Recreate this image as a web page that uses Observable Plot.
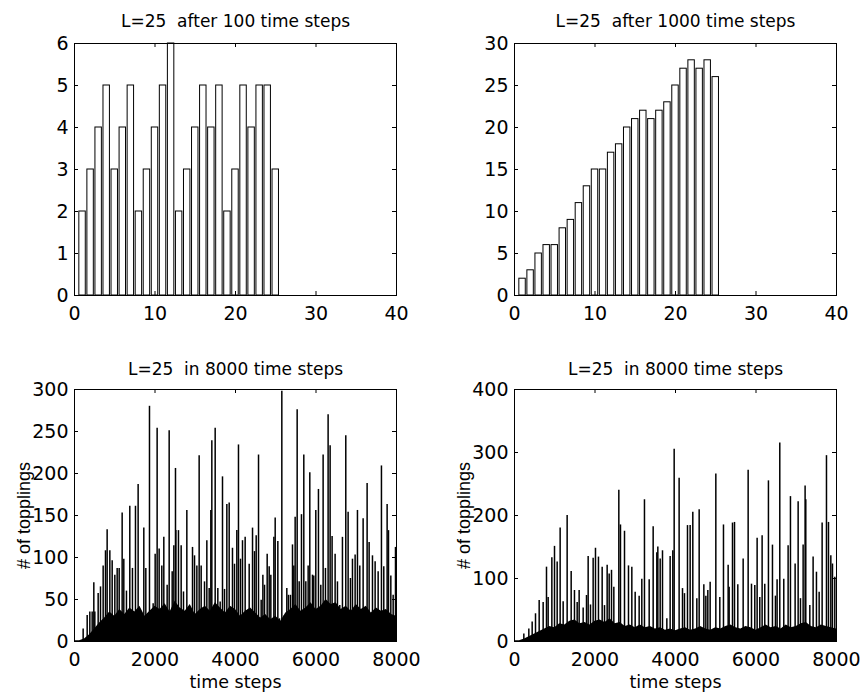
<!DOCTYPE html>
<html>
<head>
<meta charset="utf-8">
<script src="https://cdn.jsdelivr.net/npm/d3@7"></script>
<script src="https://cdn.jsdelivr.net/npm/@observablehq/plot@0.6"></script>
<style>
  html, body { margin: 0; padding: 0; background: #fff; }
  #wrap { position: relative; width: 861px; height: 696px; overflow: hidden; }
  .panel { position: absolute; }
</style>
</head>
<body>
<div id="wrap"></div>
<script>
// ---------- data ----------
const sites = [1,2,3,4,5,6,7,8,9,10,11,12,13,14,15,16,17,18,19,20,21,22,23,24,25];
const heights100 = [2,3,4,5,3,4,5,2,3,4,5,6,2,3,4,5,4,5,2,3,5,4,5,5,3];
const heights1000 = [2,3,5,6,6,8,9,11,13,15,15,17,18,20,21,22,21,22,23,25,27,28,27,28,26];

const xTicksTop = [0,10,20,30,40];
const yTicksTL = [0,1,2,3,4,5,6];
const yTicksTR = [0,5,10,15,20,25,30];
const xTicksBottom = [0,2000,4000,6000,8000];
const yTicksBL = [0,50,100,150,200,250,300];
const yTicksBR = [0,100,200,300,400];

const titles = ["L=25  after 100 time steps", "L=25  after 1000 time steps", "L=25  in 8000 time steps", "L=25  in 8000 time steps"];
const xLabel = "time steps";
const yLabel = "# of topplings";

// dense background level of the toppling series [time step, topplings]
const bandBL = [[0,1],[125,1],[250,3],[375,8],[500,15],[625,22],[750,28],[875,35],[1000,30],[1125,38],[1250,32],[1375,40],[1500,35],[1625,42],[1750,30],[1875,36],[2000,42],[2125,38],[2250,45],[2375,35],[2500,48],[2625,40],[2750,36],[2875,44],[3000,32],[3125,38],[3250,42],[3375,36],[3500,46],[3625,40],[3750,34],[3875,42],[4000,38],[4125,30],[4250,36],[4375,40],[4500,34],[4625,28],[4750,32],[4875,26],[5000,30],[5125,24],[5250,34],[5375,38],[5500,44],[5625,36],[5750,40],[5875,46],[6000,38],[6125,42],[6250,50],[6375,44],[6500,46],[6625,38],[6750,42],[6875,36],[7000,44],[7125,38],[7250,42],[7375,34],[7500,40],[7625,36],[7750,38],[7875,32],[8000,30]];
const bandBR = [[0,1],[125,1],[250,4],[375,8],[500,12],[625,16],[750,20],[875,24],[1000,22],[1125,28],[1250,26],[1375,32],[1500,34],[1625,28],[1750,30],[1875,26],[2000,32],[2125,34],[2250,30],[2375,36],[2500,28],[2625,30],[2750,24],[2875,26],[3000,22],[3125,26],[3250,22],[3375,24],[3500,20],[3625,22],[3750,18],[3875,20],[4000,17],[4125,20],[4250,22],[4375,18],[4500,20],[4625,24],[4750,20],[4875,18],[5000,22],[5125,20],[5250,24],[5375,26],[5500,22],[5625,20],[5750,24],[5875,22],[6000,18],[6125,22],[6250,26],[6375,22],[6500,24],[6625,20],[6750,26],[6875,22],[7000,24],[7125,28],[7250,30],[7375,24],[7500,22],[7625,26],[7750,24],[7875,22],[8000,20]];

// individual avalanches [time step, topplings]
const spikesBL = [[215,15],[315,31],[381,35],[439,35],[480,70],[505,35],[588,57],[646,65],[712,90],[770,108],[811,133],[878,108],[936,96],[1002,79],[1060,87],[1110,87],[1184,153],[1225,98],[1291,60],[1374,161],[1440,87],[1515,161],[1581,187],[1640,32],[1722,135],[1772,87],[1863,280],[1954,45],[2004,104],[2053,254],[2103,110],[2169,90],[2219,124],[2302,67],[2352,251],[2427,83],[2468,114],[2509,206],[2518,132],[2583,132],[2650,114],[2708,59],[2791,156],[2849,32],[2932,112],[2982,102],[3040,90],[3097,221],[3147,90],[3230,71],[3288,120],[3346,63],[3387,156],[3412,239],[3495,254],[3561,63],[3619,47],[3677,196],[3727,62],[3785,163],[3843,165],[3925,111],[3975,92],[4033,132],[4074,234],[4124,98],[4174,120],[4240,124],[4340,92],[4423,135],[4472,107],[4514,126],[4572,222],[4638,49],[4680,79],[4721,67],[4787,104],[4837,89],[4878,79],[4953,124],[4986,147],[5052,119],[5093,27],[5151,298],[5217,31],[5275,63],[5316,55],[5366,55],[5416,115],[5449,90],[5482,148],[5532,276],[5582,71],[5639,151],[5697,222],[5747,71],[5805,90],[5846,201],[5912,79],[5945,78],[5995,156],[6061,181],[6119,67],[6177,222],[6235,87],[6301,270],[6351,233],[6400,125],[6475,104],[6533,71],[6591,43],[6657,124],[6740,245],[6798,154],[6856,75],[6906,98],[6972,103],[7030,156],[7088,90],[7171,146],[7270,188],[7320,118],[7403,102],[7469,95],[7544,83],[7626,209],[7684,89],[7767,163],[7801,132],[7859,78],[7917,55],[7975,112]];

const spikesBR = [[232,12],[356,20],[439,31],[522,44],[613,65],[712,62],[795,118],[836,70],[928,133],[994,151],[1060,126],[1134,180],[1209,63],[1308,200],[1408,111],[1490,81],[1557,62],[1606,81],[1706,53],[1789,73],[1830,135],[1888,58],[1954,132],[2012,148],[2086,134],[2178,118],[2236,57],[2302,121],[2352,107],[2410,113],[2468,86],[2592,240],[2633,185],[2733,175],[2832,120],[2915,118],[2998,78],[3097,72],[3163,99],[3229,225],[3346,98],[3445,182],[3536,141],[3561,150],[3619,131],[3677,144],[3785,36],[3867,135],[3933,144],[3967,305],[4090,259],[4174,84],[4223,76],[4298,184],[4364,184],[4430,205],[4530,68],[4588,209],[4704,90],[4754,72],[4803,81],[4861,94],[5002,266],[5101,70],[5192,185],[5308,121],[5333,86],[5416,188],[5466,189],[5548,90],[5681,131],[5805,272],[5888,91],[5970,89],[6028,164],[6094,70],[6152,168],[6218,91],[6309,255],[6409,153],[6483,72],[6524,98],[6591,315],[6690,99],[6798,152],[6856,230],[6972,123],[7047,222],[7105,68],[7171,153],[7220,247],[7237,225],[7337,57],[7419,134],[7502,110],[7569,78],[7643,188],[7751,295],[7801,189],[7859,136],[7900,123],[7958,102]];

// ---------- layout ----------
const TICK = 4;
const FONT = "DejaVu Sans, sans-serif";

function box(xTicks, yTicks, fw, fh) {
  return [
    Plot.frame({stroke: "black", strokeWidth: 1}),
    Plot.tickX(xTicks, {x: d => d, insetTop: fh - TICK, stroke: "black"}),
    Plot.tickX(xTicks, {x: d => d, insetBottom: fh - TICK, stroke: "black"}),
    Plot.tickY(yTicks, {y: d => d, insetRight: fw - TICK, stroke: "black"}),
    Plot.tickY(yTicks, {y: d => d, insetLeft: fw - TICK, stroke: "black"}),
    Plot.axisX(xTicks, {anchor: "bottom", tickSize: 0, tickPadding: 11, label: null, tickFormat: d => String(d), fontSize: 19, fill: "black"}),
    Plot.axisY(yTicks, {anchor: "left", tickSize: 0, tickPadding: 6, label: null, tickFormat: d => String(d), fontSize: 19, fill: "black"})
  ];
}

function panel(o) {
  const fw = o.width - o.ml - o.mr;
  const fh = o.height - o.mt - o.mb;
  const marks = [...o.marks, ...box(o.xTicks, o.yTicks, fw, fh),
    Plot.text([o.title], {frameAnchor: "top", dy: o.titleDy, lineAnchor: "top", textAnchor: "middle", fontSize: 17, fill: "black", fontFamily: FONT})
  ];
  if (o.xlabel) {
    marks.push(Plot.text([o.xlabel], {frameAnchor: "bottom", dy: 34, lineAnchor: "top", textAnchor: "middle", fontSize: 17.5, fill: "black", fontFamily: FONT}));
    marks.push(Plot.text([o.ylabel], {frameAnchor: "left", dx: -50, rotate: -90, lineAnchor: "middle", textAnchor: "middle", fontSize: 18, fill: "black", fontFamily: "Liberation Sans, Arial, sans-serif"}));
  }
  const svg = Plot.plot({
    width: o.width, height: o.height,
    marginLeft: o.ml, marginRight: o.mr, marginTop: o.mt, marginBottom: o.mb,
    style: {fontFamily: FONT, fontSize: "19px", background: "white", color: "black", overflow: "visible"},
    x: {type: "linear", domain: o.xDomain},
    y: {type: "linear", domain: o.yDomain},
    marks
  });
  svg.classList.add("panel");
  svg.style.left = o.left + "px";
  svg.style.top = o.top + "px";
  document.getElementById("wrap").appendChild(svg);
}

const bars100 = sites.map((s, i) => ({site: s, h: heights100[i]}));
const bars1000 = sites.map((s, i) => ({site: s, h: heights1000[i]}));
const toObj = ([t, v]) => ({t, v});

const barMarks = data => [
  Plot.rect(data, {x1: d => d.site - 0.4, x2: d => d.site + 0.4, y1: 0, y2: "h", fill: "white", stroke: "black", strokeWidth: 1})
];
const seriesMarks = (band, sp) => [
  Plot.areaY(band.map(toObj), {x: "t", y: "v", fill: "black"}),
  Plot.ruleX(sp.map(toObj), {x: "t", y1: 0, y2: "v", stroke: "black", strokeWidth: 1.5})
];

panel({left: 0, top: 0, width: 430, height: 320, ml: 74, mr: 34, mt: 43, mb: 25,
  xDomain: [0, 40], yDomain: [0, 6], xTicks: xTicksTop, yTicks: yTicksTL,
  title: titles[0], titleDy: -29, marks: barMarks(bars100)});
panel({left: 430, top: 0, width: 431, height: 320, ml: 84, mr: 25, mt: 43, mb: 25,
  xDomain: [0, 40], yDomain: [0, 30], xTicks: xTicksTop, yTicks: yTicksTR,
  title: titles[1], titleDy: -29, marks: barMarks(bars1000)});
panel({left: 0, top: 320, width: 430, height: 376, ml: 74, mr: 34, mt: 69, mb: 55,
  xDomain: [0, 8000], yDomain: [0, 300], xTicks: xTicksBottom, yTicks: yTicksBL,
  title: titles[2], titleDy: -27, xlabel: xLabel, ylabel: yLabel, marks: seriesMarks(bandBL, spikesBL)});
panel({left: 430, top: 320, width: 431, height: 376, ml: 84, mr: 25, mt: 69, mb: 55,
  xDomain: [0, 8000], yDomain: [0, 400], xTicks: xTicksBottom, yTicks: yTicksBR,
  title: titles[3], titleDy: -27, xlabel: xLabel, ylabel: yLabel, marks: seriesMarks(bandBR, spikesBR)});
</script>
</body>
</html>
